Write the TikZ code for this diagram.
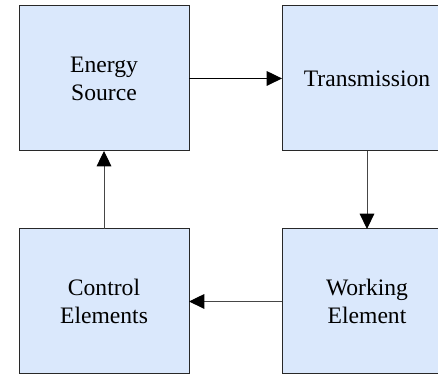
\documentclass[tikz,border=0pt]{standalone}
\usepackage{fontspec}
\setmainfont{Liberation Serif}
\usetikzlibrary{positioning,arrows.meta}
\definecolor{boxFill}{RGB}{218,232,252}
\definecolor{boxLine}{RGB}{40,40,40}
\definecolor{flowLine}{RGB}{70,70,70}

\begin{document}
\begin{tikzpicture}
  \newdimen\hgap
  \hgap=69.75pt
  \newdimen\vgap
  \vgap=58.5pt

  \tikzstyle{block} = [
    % The shape:
    rectangle, minimum height=108.75pt, minimum width=127.5pt,
    inner sep=0pt, outer sep=0pt,
    % The border:
    line width=0.75pt,
    draw=boxLine,
    % The filling:
    fill=boxFill,
    % Font:
    align=center,
    font=\fontsize{17.7}{21}\selectfont
  ];
  \tikzstyle{flow} = [
    draw = flowLine,
    line width=0.75pt,
    -{Triangle[length=11.5pt,width=11pt,black]}
  ];

  \clip (0,0) rectangle (328.5pt,281.25pt);
  \useasboundingbox (0,0) rectangle (328.5pt,281.25pt);

  \node [block] (source) at (78pt,222.4pt) {Energy\\Source};
  \node [block, right = \hgap of source] (transmission) {Transmission};
  \node [block, below = \vgap of transmission] (working) {Working\\Element};
  \node [block, below = \vgap of source] (control) {Control\\Elements};

  \path [flow, draw=black] (source) to (transmission);
  \path [flow] (transmission) to (working);
  \path [flow] (working) to (control);
  \path [flow] (control) to (source);
\end{tikzpicture}
\end{document}
